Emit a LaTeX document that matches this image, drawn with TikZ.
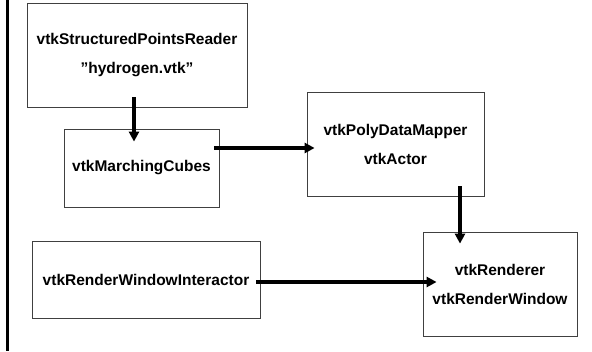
\documentclass[tikz,border=0pt]{standalone}
\usepackage{fontspec}
\setmainfont{Liberation Sans}
\usetikzlibrary{arrows.meta}

\begin{document}
\begin{tikzpicture}[x=1pt, y=-1pt,
	vtkbox/.style={draw=black!75, line width=0.8pt, inner sep=0pt, align=center, font=\fontsize{15.5}{29}\selectfont\bfseries},
	pipe/.style={line width=3.4pt, -{Triangle[length=10pt,width=10pt]}}]
	\useasboundingbox (0,0) rectangle (592,351);
	\draw[line width=2.8pt] (7.5,0) -- (7.5,351);

\node[vtkbox, minimum width=220pt, minimum height=104pt] (reader) at (137,55) {vtkStructuredPointsReader\\''hydrogen.vtk''};
\node[vtkbox, minimum width=155pt, minimum height=78pt] (cubes) at (141.5,168) {vtkMarchingCubes};
\node[vtkbox, minimum width=177pt, minimum height=104pt] (mapper) at (395.5,144) {vtkPolyDataMapper\\vtkActor};
\node[vtkbox, minimum width=154pt, minimum height=104pt] (renderer) at (500,284) {vtkRenderer\\vtkRenderWindow};
\node[vtkbox, minimum width=228pt, minimum height=77pt] (interactor) at (146,279.5) {vtkRenderWindowInteractor};

\draw[pipe] ([xshift=-3pt,yshift=10pt]reader.south) -- ([xshift=-7.5pt,yshift=-13pt]cubes.north);
\draw[pipe] ([xshift=-5pt,yshift=20pt]cubes.east) -- ([xshift=8pt,yshift=-4pt]mapper.west);
\draw[pipe] ([xshift=64.5pt,yshift=10pt]mapper.south) -- ([xshift=-40pt,yshift=-12pt]renderer.north);
\draw[pipe] ([xshift=-4pt,yshift=-2.5pt]interactor.east) -- ([xshift=14pt,yshift=2pt]renderer.west);

\end{tikzpicture}
\end{document}
